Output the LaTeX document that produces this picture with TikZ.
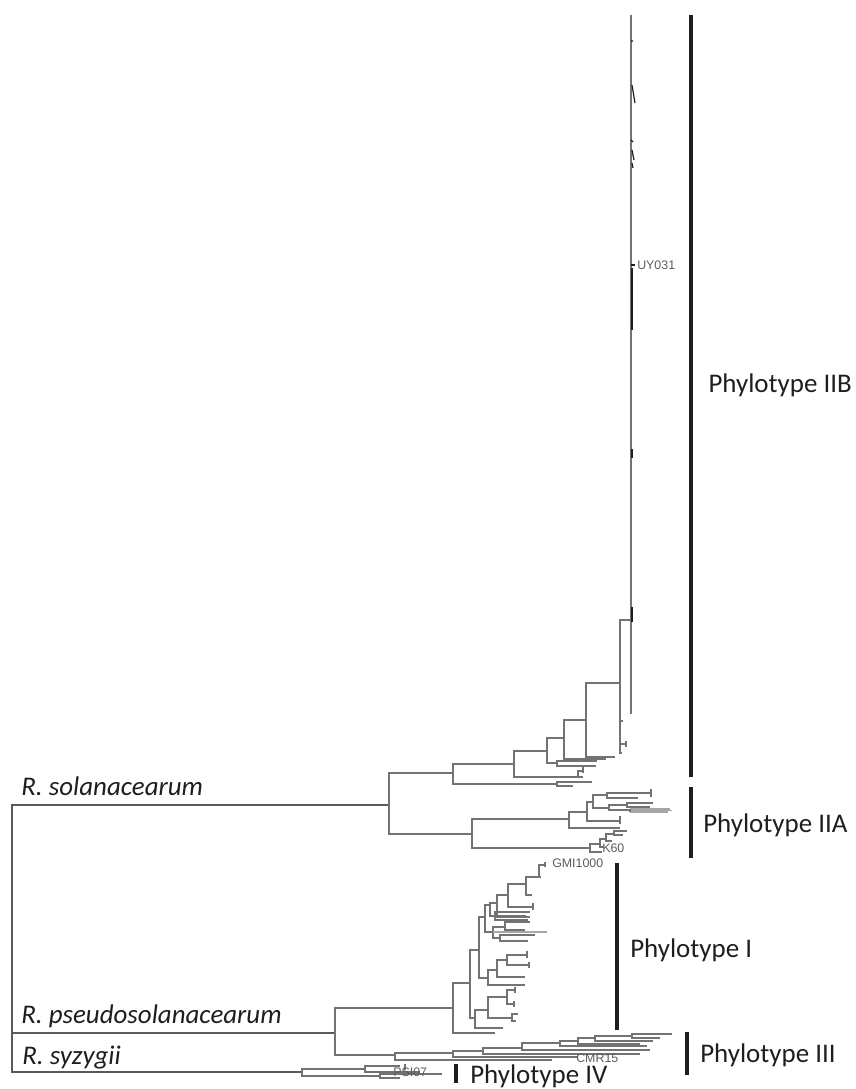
\documentclass[tikz,border=0pt]{standalone}
\usepackage{fontspec}
\setmainfont{Carlito}
\newfontfamily\tipfont{Liberation Sans}
\usepackage{tikz}
\definecolor{ink}{HTML}{1E1E1E}
\definecolor{branch}{HTML}{737373}
\definecolor{twig}{HTML}{A6A6A6}
\definecolor{stem}{HTML}{5A5A5A}
\definecolor{tiplab}{HTML}{5C5C5C}
\tikzset{
  tree/.style={branch,line width=0.8pt,line join=miter},
  twigs/.style={twig,line width=0.9pt},
  bar/.style={ink,line width=2.3pt},
  clade/.style={inner sep=0pt,text=ink,font=\fontsize{20.2}{24}\selectfont},
  taxon/.style={inner sep=0pt,text=ink,font=\fontsize{20.2}{24}\selectfont\itshape},
  tip/.style={inner sep=0pt,text=tiplab,font=\tipfont\fontsize{9.3}{11}\selectfont}
}
% one bifurcation: node x, top y, bottom y, end of top branch, end of bottom branch
\newcommand\tfork[5]{\draw[tree] (#4,#2) -- (#1,#2) -- (#1,#3) -- (#5,#3);}

\begin{document}
\begin{tikzpicture}[x=0.75pt,y=-0.75pt]
 \useasboundingbox (0,0) rectangle (856,1089);
 % root
 \draw[stem,line width=0.8pt] (389,805) -- (12,805) -- (12,1072) -- (302,1072);
 \draw[stem,line width=0.8pt] (12,1033) -- (335,1033);
 \tfork{335}{1008}{1055}{453}{395}
 % phylotype II
 \tfork{389}{773}{834}{453}{472}
 \tfork{453}{764}{784}{514}{557}
 \tfork{557}{782}{786}{592}{573}
 \tfork{514}{751}{777}{547}{578}
 \tfork{578}{771}{777}{583}{583}
 \draw[tree] (583,767) -- (583,773);
 \tfork{547}{738}{763}{564}{557}
 \tfork{557}{761}{766}{597}{596}
 \tfork{564}{720}{759}{586}{606}
 \tfork{586}{683}{757}{620}{615}
 \tfork{620}{620}{753}{631}{622}
 \draw[tree] (620,721) -- (623,721) (620,744) -- (626,744) (626,741) -- (626,747);
 % collapsed IIB crown
 \draw[tree] (631,15) -- (631,714);
 \draw[ink,line width=0.9pt] (631,41) -- (633,41) (632,85) -- (635,103) (631,140) -- (633,142)
   (632,150) -- (634,160) (632,163) -- (633,168);
 \draw[ink,line width=1.1pt] (632,268) -- (632,330) (631,265) -- (635,265);
 \draw[ink,line width=1.1pt] (632,449) -- (632,458) (632,607) -- (632,622);
 % phylotype IIA
 \tfork{472}{819}{848}{569}{590}
 \tfork{569}{812}{828}{587}{620}
 \tfork{587}{802}{821}{593}{620}
 \draw[tree] (620,816) -- (620,824);
 \tfork{593}{795}{808}{607}{609}
 \tfork{607}{793}{798}{651}{638}
 \draw[tree] (651,789) -- (651,797);
 \tfork{609}{805}{810}{627}{630}
 \tfork{627}{803}{807}{653}{650}
 \draw[twigs] (630,809) -- (670,809) (630,810.5) -- (672,810.5) (630,812) -- (668,812);
 \draw[tree] (630,809) -- (630,812);
 \tfork{590}{844}{852}{600}{602}
 \tfork{600}{839}{847}{606}{604}
 \tfork{606}{834}{841}{614}{612}
 \tfork{614}{831}{835}{627}{623}
 % phylotype I
 \tfork{453}{983}{1033}{470}{495}
 \tfork{470}{950}{1018}{479}{475}
 \tfork{475}{1010}{1028}{488}{503}
 \tfork{488}{997}{1018}{507}{512}
 \tfork{507}{990}{1004}{515}{514}
 \draw[tree] (515,987) -- (515,993) (514,1001) -- (514,1007);
 \tfork{512}{1014}{1021}{518}{516}
 \tfork{479}{917}{978}{485}{488}
 \tfork{488}{970}{985}{497}{525}
 \tfork{497}{960}{977}{507}{525}
 \tfork{507}{955}{965}{527}{529}
 \draw[tree] (527,951) -- (527,958) (529,962) -- (529,968);
 \tfork{485}{905}{932}{490}{493}
 \tfork{493}{927}{938}{505}{500}
 \tfork{505}{922}{930}{530}{525}
 \tfork{500}{935}{941}{535}{528}
 \draw[twigs] (493,932) -- (547,932);
 \tfork{490}{903}{916}{497}{495}
 \tfork{495}{912}{920}{530}{528}
 \draw[tree] (495,916) -- (526,916);
 \tfork{497}{895}{917}{508}{530}
 \tfork{508}{884}{907}{526}{533}
 \draw[tree] (533,903) -- (533,910);
 \tfork{526}{877}{895}{539}{532}
 \tfork{539}{865}{877}{545}{541}
 \draw[tree] (545,862) -- (545,867);
 % phylotype III
 \tfork{395}{1053}{1060}{453}{552}
 \tfork{453}{1051}{1057}{483}{577}
 \tfork{483}{1048}{1054}{522}{640}
 \tfork{522}{1043}{1050}{560}{650}
 \tfork{560}{1041}{1046}{578}{647}
 \tfork{578}{1038}{1044}{595}{640}
 \tfork{595}{1036}{1041}{632}{653}
 \tfork{632}{1034}{1038}{672}{660}
 % phylotype IV
 \tfork{302}{1069}{1076}{365}{380}
 \tfork{365}{1066}{1072}{400}{420}
 \tfork{380}{1074}{1078}{442}{400}
 \draw[tree] (405,1064) -- (405,1070);
 % clade bars
 \draw[bar] (691,15) -- (691,777);
 \draw[bar] (691,787) -- (691,858);
 \draw[bar] (617,863) -- (617,1030);
 \draw[bar] (687,1032) -- (687,1075);
 \draw[bar] (456,1064) -- (456,1083);
 % labels
 \node[clade,anchor=base east] (lab-iib) at (852,392) {Phylotype IIB};
 \node[clade,anchor=base west] (lab-iia) at (703,832) {Phylotype IIA};
 \node[clade,anchor=base west] (lab-i) at (630,957) {Phylotype I};
 \node[clade,anchor=base west] (lab-iii) at (700,1062) {Phylotype III};
 \node[clade,anchor=base west] (lab-iv) at (470,1083) {Phylotype IV};
 \node[taxon,anchor=base west] (sp-sol) at (21,795) {R. solanacearum};
 \node[taxon,anchor=base west] (sp-pseudo) at (21,1023) {R. pseudosolanacearum};
 \node[taxon,anchor=base west] (sp-syz) at (22,1064) {R. syzygii};
 \node[tip,anchor=west] (tip-uy) at (637,265) {UY031};
 \node[tip,anchor=west] (tip-k60) at (602,848) {K60};
 \node[tip,anchor=west] (tip-gmi) at (552,863) {GMI1000};
 \node[tip,anchor=west] (tip-cmr) at (576,1058) {CMR15};
 \node[tip,anchor=west] (tip-psi) at (393,1072) {PSI07};
\end{tikzpicture}
\end{document}
